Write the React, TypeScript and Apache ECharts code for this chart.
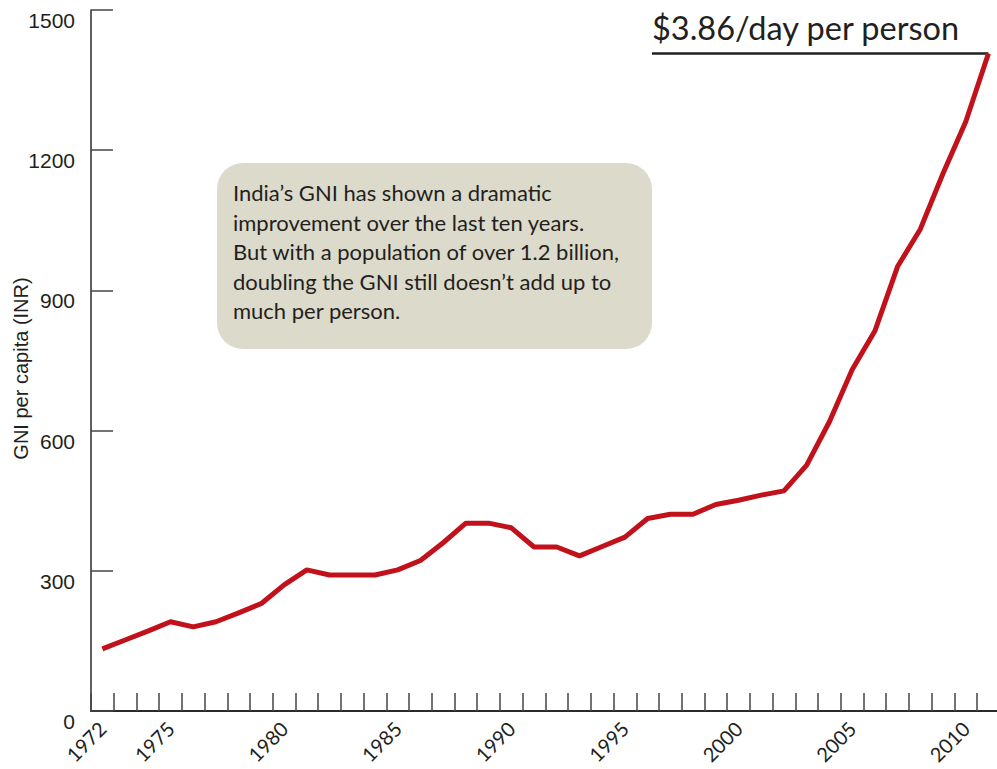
import React, { useEffect, useRef } from "react";
import * as echarts from "echarts";

const years: string[] = [
  "1972","1973","1974","1975","1976","1977","1978","1979","1980","1981",
  "1982","1983","1984","1985","1986","1987","1988","1989","1990","1991",
  "1992","1993","1994","1995","1996","1997","1998","1999","2000","2001",
  "2002","2003","2004","2005","2006","2007","2008","2009","2010","2011",
];

const gniPerCapita: number[] = [
  133, 152, 171, 191, 180, 191, 210, 230, 270, 302,
  291, 291, 291, 302, 322, 360, 402, 402, 392, 351,
  351, 332, 352, 372, 412, 421, 421, 442, 451, 462,
  471, 526, 619, 730, 813, 951, 1031, 1150, 1261, 1407,
];

const yTicks: number[] = [0, 300, 600, 900, 1200, 1500];

const calloutText = "$3.86/day per person";
const noteLines: string[] = [
  "India\u2019s GNI has shown a dramatic",
  "improvement over the last ten years.",
  "But with a population of over 1.2 billion,",
  "doubling the GNI still doesn\u2019t add up to",
  "much per person.",
];

export default function App() {
  const ref = useRef<HTMLDivElement>(null);

  useEffect(() => {
    if (!ref.current) return;
    const chart = echarts.init(ref.current, null, { renderer: "svg" });
    const option: any = {
      animation: false,
      backgroundColor: "#ffffff",
      grid: {
        left: 91,
        top: 10,
        width: 908.8,
        height: 701,
        containLabel: false,
        outerBoundsMode: "none",
      },
      xAxis: {
        type: "category",
        data: years,
        boundaryGap: true,
        axisLine: { show: true, lineStyle: { color: "#2b2b2b", width: 2 } },
        axisTick: {
          show: true,
          inside: true,
          length: 18,
          interval: 0,
          lineStyle: { color: "#444", width: 1.5 },
        },
        axisLabel: {
          rotate: 45,
          margin: 14,
          interval: (idx: number, val: string) => val === "1972" || Number(val) % 5 === 0,
          fontSize: 20,
          fontFamily: "Lato, 'Open Sans', sans-serif",
          color: "#231f20",
        },
        splitLine: { show: false },
      },
      yAxis: {
        type: "value",
        min: yTicks[0],
        max: yTicks[yTicks.length - 1],
        interval: 300,
        name: "GNI per capita (INR)",
        nameLocation: "middle",
        nameRotate: 90,
        nameGap: 60,
        nameMoveOverlap: false,
        nameTextStyle: {
          fontSize: 20,
          fontFamily: "'Liberation Sans', Arial, sans-serif",
          color: "#231f20",
          padding: [0, 16, 0, 0],
        },
        axisLine: { show: true, lineStyle: { color: "#2b2b2b", width: 1.5 } },
        axisTick: { show: true, inside: true, length: 22, lineStyle: { color: "#444", width: 1.5 } },
        axisLabel: {
          margin: 16,
          fontSize: 21,
          fontFamily: "'Liberation Sans', Arial, sans-serif",
          color: "#231f20",
          verticalAlign: "top",
          lineHeight: 21,
          formatter: (v: number) => String(v),
        },
        splitLine: { show: false },
      },
      series: [
        {
          type: "line",
          data: gniPerCapita,
          symbol: "none",
          lineStyle: { color: "#c1121c", width: 5 },
          itemStyle: { color: "#c1121c" },
        },
      ],
    };
    chart.setOption(option);

    const last = chart.convertToPixel({ gridIndex: 0 }, [
      years[years.length - 1],
      gniPerCapita[gniPerCapita.length - 1],
    ]) as number[];

    chart.setOption({
      graphic: [
        {
          type: "rect",
          shape: { x: 217, y: 163, width: 435, height: 186, r: 26 },
          style: { fill: "#dcdacb" },
          z: 1,
        },
        {
          type: "text",
          x: 233,
          y: 178,
          z: 2,
          style: {
            text: noteLines.join("\n"),
            fontSize: 22,
            lineHeight: 29.5,
            fontFamily: "Lato, 'Open Sans', sans-serif",
            fill: "#231f20",
            verticalAlign: "top",
          },
        },
        {
          type: "text",
          x: 652,
          y: 27,
          z: 2,
          style: {
            text: calloutText,
            fontSize: 32.5,
            fontFamily: "Lato, 'Open Sans', sans-serif",
            fill: "#231f20",
            verticalAlign: "middle",
          },
        },
        {
          type: "line",
          z: 2,
          shape: { x1: 652, y1: last[1], x2: last[0], y2: last[1] },
          style: { stroke: "#231f20", lineWidth: 2.5 },
        },
      ],
    });

    return () => chart.dispose();
  }, []);

  return (
    <div
      ref={ref}
      style={{ position: "absolute", left: 0, top: 0, width: 997, height: 769 }}
    />
  );
}
